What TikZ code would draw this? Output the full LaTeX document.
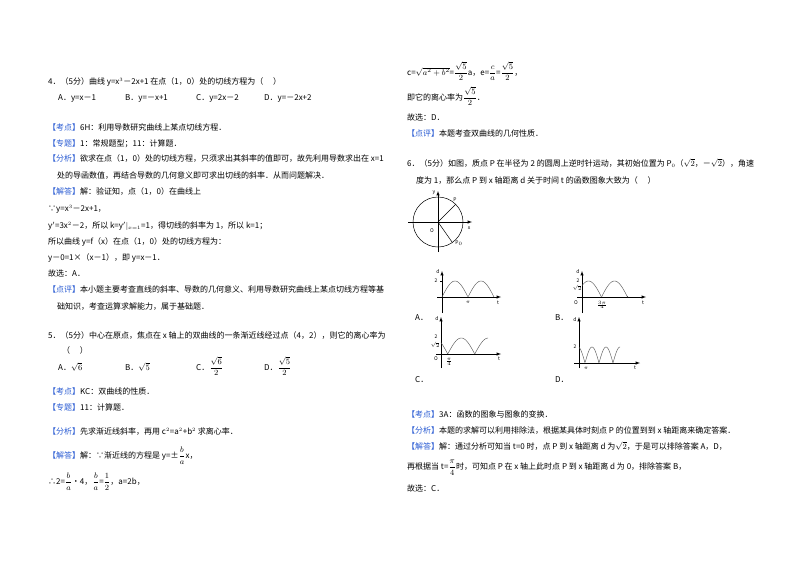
\documentclass[tikz,border=0pt]{standalone}
\usepackage{fontspec}
\setmainfont{Noto Sans CJK SC}
\usepackage{amsmath}
\definecolor{kb}{RGB}{40,90,210}
\newcommand\kd[1]{\textcolor{kb}{【#1】}}
\newcommand\fr[2]{\ensuremath{\dfrac{#1}{#2}}}
\begin{document}
\begin{tikzpicture}[x=1pt,y=-1pt,
  txt/.style={anchor=base west,inner sep=0pt,font=\fontsize{8}{9}\selectfont},
  ax/.style={line width=0.5pt,-latex},
  crv/.style={line width=0.45pt,gray!70!black},
  sm/.style={inner sep=0pt,font=\fontsize{5}{6}\selectfont}]
\useasboundingbox (0,0) rectangle (800,565);
% left column
\node[txt] (a1) at (48,84) {4．（5分）曲线 y=x$^{\scriptscriptstyle 3}$－2x+1 在点（1，0）处的切线方程为（\quad\ ）};
\node[txt] (a2) at (58,100) {A．y=x－1};
\node[txt] (a3) at (125,100) {B．y=－x+1};
\node[txt] (a4) at (196,100) {C．y=2x－2};
\node[txt] (a5) at (264,100) {D．y=－2x+2};
\node[txt] (a6) at (48,130) {\kd{考点}6H：利用导数研究曲线上某点切线方程．};
\node[txt] (a7) at (48,146) {\kd{专题}1：常规题型；11：计算题．};
\node[txt] (a8) at (48,161) {\kd{分析}欲求在点（1，0）处的切线方程，只须求出其斜率的值即可，故先利用导数求出在 x=1};
\node[txt] (a9) at (57,178) {处的导函数值，再结合导数的几何意义即可求出切线的斜率．从而问题解决．};
\node[txt] (a10) at (48,194) {\kd{解答}解：验证知，点（1，0）在曲线上};
\node[txt] (a11) at (48,211) {∵y=x$^{\scriptscriptstyle 3}$－2x+1，};
\node[txt] (a12) at (48,228) {y$'$=3x$^{\scriptscriptstyle 2}$－2，所以 k=y$'|_{\scriptscriptstyle x=1}$=1，得切线的斜率为 1，所以 k=1；};
\node[txt] (a13) at (48,244) {所以曲线 y=f（x）在点（1，0）处的切线方程为：};
\node[txt] (a14) at (48,260) {y－0=1×（x－1），即 y=x－1．};
\node[txt] (a15) at (48,276) {故选：A．};
\node[txt] (a16) at (48,292) {\kd{点评}本小题主要考查直线的斜率、导数的几何意义、利用导数研究曲线上某点切线方程等基};
\node[txt] (a17) at (57,309) {础知识，考查运算求解能力，属于基础题．};
\node[txt] (b1) at (48,338) {5．（5分）中心在原点，焦点在 x 轴上的双曲线的一条渐近线经过点（4，2），则它的离心率为};
\node[txt] (b2) at (62,353) {（\quad\ ）};
\node[txt] (b3) at (58,370) {A．$\sqrt6$};
\node[txt] (b4) at (125,370) {B．$\sqrt5$};
\node[txt] (b5) at (196,370) {C．\fr{\sqrt6}{2}};
\node[txt] (b6) at (264,370) {D．\fr{\sqrt5}{2}};
\node[txt] (b7) at (48,394) {\kd{考点}KC：双曲线的性质．};
\node[txt] (b8) at (48,410) {\kd{专题}11：计算题．};
\node[txt] (b9) at (48,434) {\kd{分析}先求渐近线斜率，再用 c$^{\scriptscriptstyle 2}$=a$^{\scriptscriptstyle 2}$+b$^{\scriptscriptstyle 2}$ 求离心率．};
\node[txt] (b10) at (48,458) {\kd{解答}解：∵渐近线的方程是 y=±\fr{b}{a}x，};
\node[txt] (b11) at (48,484) {∴2=\fr{b}{a}•4，\fr{b}{a}=\fr{1}{2}，a=2b，};
% right column
\node[txt] (c1) at (407,75) {c=$\sqrt{a^2+b^2}$=\fr{\sqrt5}{2}a，e=\fr{c}{a}=\fr{\sqrt5}{2}，};
\node[txt] (c2) at (407,100) {即它的离心率为\fr{\sqrt5}{2}．};
\node[txt] (c3) at (407,120) {故选：D．};
\node[txt] (c4) at (407,136) {\kd{点评}本题考查双曲线的几何性质．};
\node[txt] (c5) at (407,166) {6．（5分）如图，质点 P 在半径为 2 的圆周上逆时针运动，其初始位置为 P$_{\scriptscriptstyle 0}$（$\sqrt2$，－$\sqrt2$），角速};
\node[txt] (c6) at (416,183) {度为 1，那么点 P 到 x 轴距离 d 关于时间 t 的函数图象大致为（\quad\ ）};
% circle figure
\coordinate (O) at (438,222);
\draw[line width=0.5pt] (O) circle (25);
\coordinate (xl) at (408,222); \coordinate (xr) at (472,222);
\coordinate (yb) at (438,252); \coordinate (yt) at (438,191);
\draw[ax] (xl) -- (xr);
\draw[ax] (yb) -- (yt);
\draw[line width=0.5pt] (O) -- +(0,0) -- ++(55:25) coordinate (P1);
\draw[line width=0.5pt] (O) -- ++(-45:25) coordinate (P0);
\node[sm] (ly) at (434,193) {y};
\node[sm] (lP) at (455,200) {P};
\node[sm] (lO) at (432,231) {O};
\node[sm] (lx) at (469,228) {x};
\node[sm] (lP0) at (459,243) {P$_0$};
% graph A
\draw[ax] (442,313) -- (442,271); \draw[ax] (437,297) -- (501,297);
\draw[crv,domain=442:494,samples=80] plot (\x,{297-16*abs(sin(180*(\x-442)/26))});
\draw (440,281)--(442,281);
\node[sm] (gA1) at (436,281) {2}; \node[sm] (gA2) at (438,272) {d};
\node[sm] (gA3) at (468,302) {$\pi$}; \node[sm] (gA4) at (498,303) {t};
\node[txt] (gA) at (415,320) {A．};
% graph B
\draw[ax] (582,313) -- (582,271); \draw[ax] (577,297) -- (646,297);
\draw[crv,domain=582:628,samples=80] plot (\x,{297-16*abs(cos(180*(\x-582)/26-45))});
\node[sm] (gB1) at (578,281) {2}; \node[sm] (gB2) at (577,288) {$\sqrt2$};
\node[sm] (gB3) at (578,272) {d}; \node[sm] (gB4) at (576,303) {O};
\node[sm] (gB5) at (602,305) {$\frac{3\pi}{4}$}; \node[sm] (gB6) at (643,303) {t};
\node[txt] (gB) at (555,320) {B．};
% graph C
\draw[ax] (441,368) -- (441,317); \draw[ax] (436,354) -- (501,354);
\draw[crv,domain=441:488,samples=80] plot (\x,{354-16*abs(sin(180*(\x-441)/27-45))});
\node[sm] (gC1) at (436,337) {2}; \node[sm] (gC2) at (435,345) {$\sqrt2$};
\node[sm] (gC3) at (437,319) {d}; \node[sm] (gC4) at (436,359) {O};
\node[sm] (gC5) at (449,362) {$\frac{\pi}{4}$}; \node[sm] (gC6) at (499,359) {t};
\node[txt] (gC) at (415,382) {C．};
% graph D
\draw[ax] (579,368) -- (579,317); \draw[ax] (574,363) -- (640,363);
\draw[crv,domain=579:620,samples=100] plot (\x,{363-16*abs(sin(180*(\x-585)/14))});
\node[sm] (gD1) at (575,347) {2}; \node[sm] (gD2) at (575,320) {d};
\node[sm] (gD3) at (586,368) {$\pi$}; \node[sm] (gD4) at (635,368) {t};
\node[txt] (gD) at (555,382) {D．};
% answers
\node[txt] (e1) at (407,417) {\kd{考点}3A：函数的图象与图象的变换．};
\node[txt] (e2) at (407,433) {\kd{分析}本题的求解可以利用排除法，根据某具体时刻点 P 的位置到到 x 轴距离来确定答案．};
\node[txt] (e3) at (407,449) {\kd{解答}解：通过分析可知当 t=0 时，点 P 到 x 轴距离 d 为$\sqrt2$，于是可以排除答案 A，D，};
\node[txt] (e4) at (407,469) {再根据当 t=\fr{\pi}{4}时，可知点 P 在 x 轴上此时点 P 到 x 轴距离 d 为 0，排除答案 B，};
\node[txt] (e5) at (407,491) {故选：C．};
\end{tikzpicture}
\end{document}
